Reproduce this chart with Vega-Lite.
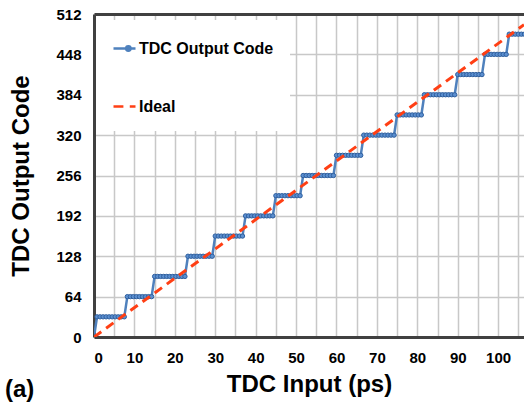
{
  "$schema": "https://vega.github.io/schema/vega-lite/v6.json",
  "width": 430,
  "height": 323,
  "autosize": {"type": "none"},
  "padding": {"left": 94, "top": 14, "right": 0, "bottom": 70},
  "background": "white",
  "config": {"view": {"stroke": null}, "font": "Liberation Sans"},
  "title": {"text": "(a)", "orient": "bottom", "anchor": "start", "frame": "group", "fontSize": 24, "fontWeight": "bold", "font": "Liberation Sans", "color": "black", "dx": -89, "offset": -18},
  "data": {"values": [
    {"s":"T","x":0,"y":0},
    {"s":"T","x":0.75,"y":32},{"s":"T","x":1.5,"y":32},{"s":"T","x":2.25,"y":32},{"s":"T","x":3,"y":32},{"s":"T","x":3.75,"y":32},{"s":"T","x":4.5,"y":32},{"s":"T","x":5.25,"y":32},{"s":"T","x":6,"y":32},{"s":"T","x":6.75,"y":32},{"s":"T","x":7.5,"y":32},
    {"s":"T","x":8.25,"y":64},{"s":"T","x":9,"y":64},{"s":"T","x":9.75,"y":64},{"s":"T","x":10.5,"y":64},{"s":"T","x":11.25,"y":64},{"s":"T","x":12,"y":64},{"s":"T","x":12.75,"y":64},{"s":"T","x":13.5,"y":64},{"s":"T","x":14.25,"y":64},
    {"s":"T","x":15,"y":96},{"s":"T","x":15.75,"y":96},{"s":"T","x":16.5,"y":96},{"s":"T","x":17.25,"y":96},{"s":"T","x":18,"y":96},{"s":"T","x":18.75,"y":96},{"s":"T","x":19.5,"y":96},{"s":"T","x":20.25,"y":96},{"s":"T","x":21,"y":96},{"s":"T","x":21.75,"y":96},{"s":"T","x":22.5,"y":96},
    {"s":"T","x":23.25,"y":128},{"s":"T","x":24,"y":128},{"s":"T","x":24.75,"y":128},{"s":"T","x":25.5,"y":128},{"s":"T","x":26.25,"y":128},{"s":"T","x":27,"y":128},{"s":"T","x":27.75,"y":128},{"s":"T","x":28.5,"y":128},{"s":"T","x":29.25,"y":128},
    {"s":"T","x":30,"y":160},{"s":"T","x":30.75,"y":160},{"s":"T","x":31.5,"y":160},{"s":"T","x":32.25,"y":160},{"s":"T","x":33,"y":160},{"s":"T","x":33.75,"y":160},{"s":"T","x":34.5,"y":160},{"s":"T","x":35.25,"y":160},{"s":"T","x":36,"y":160},{"s":"T","x":36.75,"y":160},
    {"s":"T","x":37.5,"y":192},{"s":"T","x":38.25,"y":192},{"s":"T","x":39,"y":192},{"s":"T","x":39.75,"y":192},{"s":"T","x":40.5,"y":192},{"s":"T","x":41.25,"y":192},{"s":"T","x":42,"y":192},{"s":"T","x":42.75,"y":192},{"s":"T","x":43.5,"y":192},{"s":"T","x":44.25,"y":192},
    {"s":"T","x":45,"y":224},{"s":"T","x":45.75,"y":224},{"s":"T","x":46.5,"y":224},{"s":"T","x":47.25,"y":224},{"s":"T","x":48,"y":224},{"s":"T","x":48.75,"y":224},{"s":"T","x":49.5,"y":224},{"s":"T","x":50.25,"y":224},{"s":"T","x":51,"y":224},
    {"s":"T","x":51.75,"y":256},{"s":"T","x":52.5,"y":256},{"s":"T","x":53.25,"y":256},{"s":"T","x":54,"y":256},{"s":"T","x":54.75,"y":256},{"s":"T","x":55.5,"y":256},{"s":"T","x":56.25,"y":256},{"s":"T","x":57,"y":256},{"s":"T","x":57.75,"y":256},{"s":"T","x":58.5,"y":256},{"s":"T","x":59.25,"y":256},
    {"s":"T","x":60,"y":288},{"s":"T","x":60.75,"y":288},{"s":"T","x":61.5,"y":288},{"s":"T","x":62.25,"y":288},{"s":"T","x":63,"y":288},{"s":"T","x":63.75,"y":288},{"s":"T","x":64.5,"y":288},{"s":"T","x":65.25,"y":288},{"s":"T","x":66,"y":288},
    {"s":"T","x":66.75,"y":320},{"s":"T","x":67.5,"y":320},{"s":"T","x":68.25,"y":320},{"s":"T","x":69,"y":320},{"s":"T","x":69.75,"y":320},{"s":"T","x":70.5,"y":320},{"s":"T","x":71.25,"y":320},{"s":"T","x":72,"y":320},{"s":"T","x":72.75,"y":320},{"s":"T","x":73.5,"y":320},{"s":"T","x":74.25,"y":320},
    {"s":"T","x":75,"y":352},{"s":"T","x":75.75,"y":352},{"s":"T","x":76.5,"y":352},{"s":"T","x":77.25,"y":352},{"s":"T","x":78,"y":352},{"s":"T","x":78.75,"y":352},{"s":"T","x":79.5,"y":352},{"s":"T","x":80.25,"y":352},{"s":"T","x":81,"y":352},
    {"s":"T","x":81.75,"y":384},{"s":"T","x":82.5,"y":384},{"s":"T","x":83.25,"y":384},{"s":"T","x":84,"y":384},{"s":"T","x":84.75,"y":384},{"s":"T","x":85.5,"y":384},{"s":"T","x":86.25,"y":384},{"s":"T","x":87,"y":384},{"s":"T","x":87.75,"y":384},{"s":"T","x":88.5,"y":384},{"s":"T","x":89.25,"y":384},
    {"s":"T","x":90,"y":416},{"s":"T","x":90.75,"y":416},{"s":"T","x":91.5,"y":416},{"s":"T","x":92.25,"y":416},{"s":"T","x":93,"y":416},{"s":"T","x":93.75,"y":416},{"s":"T","x":94.5,"y":416},{"s":"T","x":95.25,"y":416},{"s":"T","x":96,"y":416},
    {"s":"T","x":96.75,"y":448},{"s":"T","x":97.5,"y":448},{"s":"T","x":98.25,"y":448},{"s":"T","x":99,"y":448},{"s":"T","x":99.75,"y":448},{"s":"T","x":100.5,"y":448},{"s":"T","x":101.25,"y":448},{"s":"T","x":102,"y":448},
    {"s":"T","x":102.75,"y":480},{"s":"T","x":103.5,"y":480},{"s":"T","x":104.25,"y":480},{"s":"T","x":105,"y":480},{"s":"T","x":105.75,"y":480},{"s":"T","x":106.5,"y":480},
    {"s":"I","x":0,"y":0},{"s":"I","x":106.4,"y":495}
  ]},
  "layer": [
    {
      "transform": [{"filter": "datum.s == 'T'"}],
      "mark": {"type": "line", "strokeWidth": 2.5, "clip": true},
      "encoding": {
        "x": {"field": "x", "type": "quantitative", "scale": {"domain": [0, 106.4], "nice": false, "zero": false},
          "axis": {"orient": "bottom", "values": [0,10,20,30,40,50,60,70,80,90,100], "grid": false, "ticks": false, "domainColor": "#404040", "domainWidth": 3, "labelPadding": 13, "labelFont": "Liberation Sans", "labelFontSize": 15, "labelFontWeight": "bold", "labelColor": "black", "title": "TDC Input (ps)", "titleFont": "Liberation Sans", "titleFontSize": 24, "titleFontWeight": "bold", "titleColor": "black", "titlePadding": 7}},
        "y": {"field": "y", "type": "quantitative", "scale": {"domain": [0, 512], "nice": false},
          "axis": {"values": [0,64,128,192,256,320,384,448,512], "grid": true, "gridColor": "#c8c8c8", "gridWidth": 1.5, "ticks": false, "domainColor": "#404040", "domainWidth": 3, "labelPadding": 13, "labelFont": "Liberation Sans", "labelFontSize": 15, "labelFontWeight": "bold", "labelColor": "black", "title": "TDC Output Code", "titleFont": "Liberation Sans", "titleFontSize": 24, "titleFontWeight": "bold", "titleColor": "black", "titlePadding": 22}},
        "color": {"field": "s", "type": "nominal", "scale": {"domain": ["T", "I"], "range": ["#4f81bd", "#ff3f14"]},
          "legend": {"orient": "none", "legendX": 2, "legendY": 6, "direction": "vertical", "title": null, "fillColor": "white", "padding": 16, "rowPadding": 37, "symbolType": "stroke", "symbolSize": 484, "symbolStrokeWidth": 2.5, "labelOffset": 2, "labelFont": "Liberation Sans", "labelFontSize": 16, "labelFontWeight": "bold", "labelColor": "black",
            "labelExpr": "datum.value == 'T' ? 'TDC Output Code' : 'Ideal'",
            "encode": {"symbols": {"update": {
              "shape": [{"test": "datum.value == 'I'", "value": "M-1,0H-0.1M0.48,0H1"}, {"value": "M-1,0H1M0.15,0A0.2,0.2 0 1,1 0.55,0A0.2,0.2 0 1,1 0.15,0"}],
              "fill": [{"test": "datum.value == 'I'", "value": "transparent"}, {"value": "#4f81bd"}],
              "strokeDash": {"value": []}
            }}}}}
      }
    },
    {
      "transform": [{"filter": "datum.s == 'T'"}],
      "mark": {"type": "point", "shape": "circle", "filled": true, "size": 19, "fill": "#5b8fd0", "stroke": "#2f5f9e", "strokeWidth": 1, "opacity": 1, "clip": true},
      "encoding": {
        "x": {"field": "x", "type": "quantitative", "axis": null},
        "y": {"field": "y", "type": "quantitative"}
      }
    },
    {
      "transform": [{"filter": "datum.s == 'I'"}],
      "mark": {"type": "line", "strokeWidth": 3, "strokeDash": [9, 6], "clip": true},
      "encoding": {
        "x": {"field": "x", "type": "quantitative",
          "axis": {"orient": "top", "values": [0,5,10,15,20,25,30,35,40,45,50,55,60,65,70,75,80,85,90,95,100,105], "grid": true, "gridColor": "#c8c8c8", "gridWidth": 1.5, "labels": false, "ticks": false, "domainColor": "#404040", "domainWidth": 3, "title": null}},
        "y": {"field": "y", "type": "quantitative"},
        "color": {"field": "s", "type": "nominal"}
      }
    }
  ],
  "resolve": {"axis": {"x": "independent"}}
}
